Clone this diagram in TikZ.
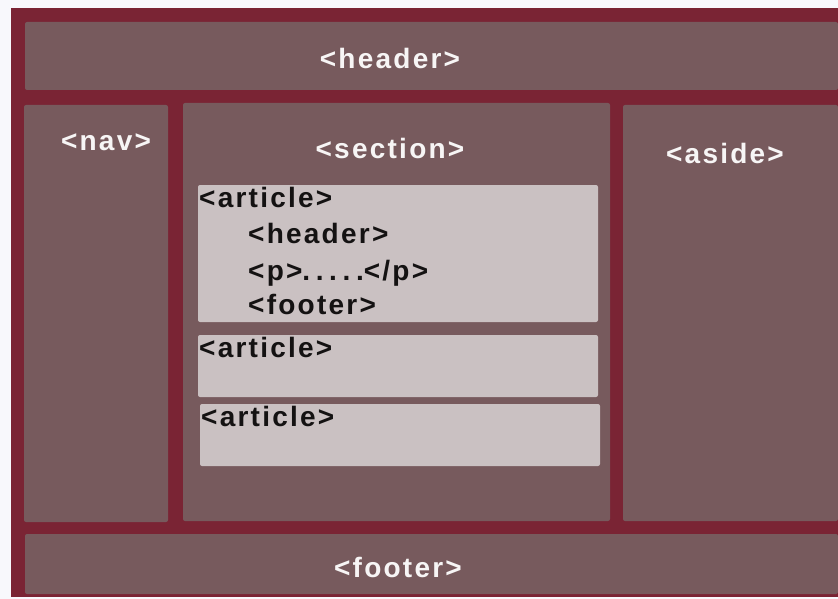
\documentclass[tikz,border=0pt]{standalone}
\usepackage{fontspec}
\setmainfont{Liberation Sans}[LetterSpace=8]
\definecolor{bgc}{HTML}{F8F8FC}
\definecolor{framec}{HTML}{7A2434}
\definecolor{boxc}{HTML}{775A5D}
\definecolor{artc}{HTML}{CAC1C2}
\definecolor{txtw}{HTML}{F7F5F5}
\definecolor{txtb}{HTML}{141212}
\tikzset{
  region/.style={fill=boxc, rounded corners=2pt},
  artbox/.style={fill=artc, rounded corners=2pt},
  wlabel/.style={text=txtw, font=\fontsize{28}{32}\selectfont\bfseries, inner sep=0pt, anchor=base},
  blabel/.style={text=txtb, font=\fontsize{28}{32}\selectfont\bfseries, inner sep=0pt, anchor=base west},
}
\begin{document}
\begin{tikzpicture}[x=1pt,y=-1pt]
\useasboundingbox (0,0) rectangle (838,599);
\fill[bgc] (0,0) rectangle (838,599);
\fill[framec] (11,8) rectangle (838,597);
% regions
\fill[region] (25,22) rectangle (838,90);
\fill[region] (24,105) rectangle (168,522);
\fill[region] (183,103) rectangle (610,521);
\fill[region] (623,105) rectangle (838,521);
\fill[region] (25,534) rectangle (838,594);
% articles
\fill[artbox] (198,185) rectangle (598,322);
\fill[artbox] (198,335) rectangle (598,397);
\fill[artbox] (200,404) rectangle (600,466);
% white labels
\node[wlabel] (hdr) at (390,69) {<header>};
\node[wlabel] (nav) at (106,151) {<nav>};
\node[wlabel] (sec) at (390,158) {<section>};
\node[wlabel] (asd) at (725,164) {<aside>};
\node[wlabel] (ftr) at (398,577) {<footer>};
% article texts
\node[blabel] (a1) at (199,207) {<article>};
\node[blabel] (a1h) at (248,243) {<header>};
\node[blabel] (a1p) at (248,280) {<p>{\addfontfeature{LetterSpace=20}.....}</p>};
\node[blabel] (a1f) at (248,314) {<footer>};
\node[blabel] (a2) at (199,357) {<article>};
\node[blabel] (a3) at (201,426) {<article>};
\end{tikzpicture}
\end{document}
